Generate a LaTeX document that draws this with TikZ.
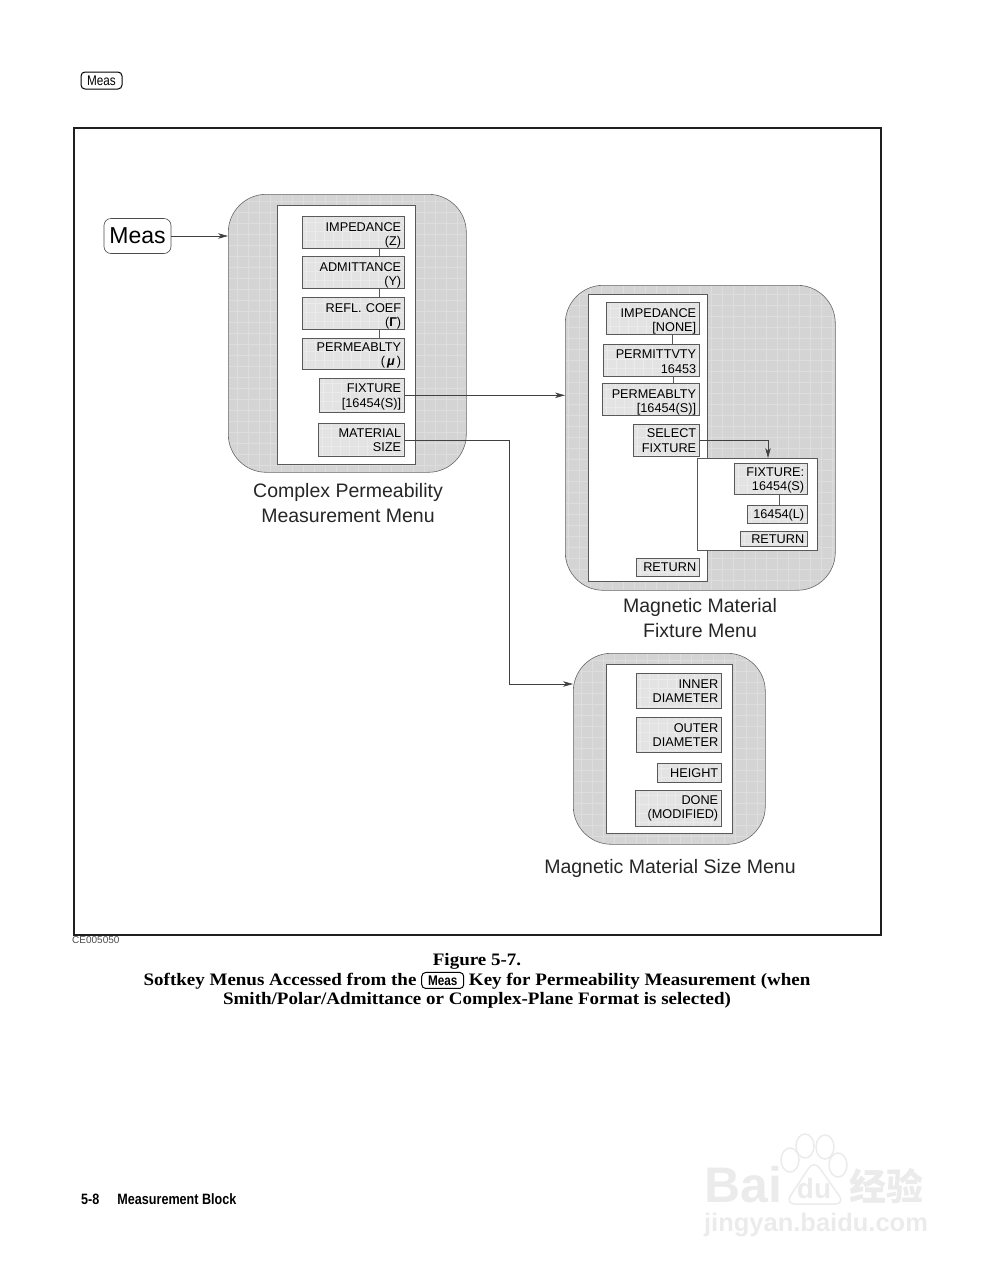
\documentclass[tikz,border=0pt]{standalone}
\usepackage{fontspec}
\setmainfont{Liberation Sans}
\newfontfamily\capfont[FakeStretch=1.085]{Liberation Serif}
\newfontfamily\footfont[FakeStretch=0.84]{Liberation Sans}
\newfontfamily\cjkfont{Noto Sans CJK SC}
\usetikzlibrary{positioning,arrows.meta}

\definecolor{framegray}{gray}{0.12}
\definecolor{panelgray}{gray}{0.83}
\definecolor{panelline}{gray}{0.865}
\definecolor{keygray}{gray}{0.89}
\definecolor{keyline}{gray}{0.92}
\definecolor{markgray}{gray}{0.92}
\newcommand{\keydrop}{12pt}

\tikzset{
  panelbox/.style={draw=gray!80!black, line width=0.6pt, fill=panelgray, rounded corners=38pt, anchor=north west, inner sep=0pt,
    path picture={\draw[panelline, line width=0.8pt] (path picture bounding box.south west) grid[step=11pt] (path picture bounding box.north east);}},
  whitebox/.style={draw=gray!70!black, line width=0.6pt, fill=white, anchor=north west, inner sep=0pt},
  softkey/.style={draw=gray!70!black, line width=0.6pt, fill=keygray, anchor=north east, inner xsep=3.5pt, inner ysep=0pt,
    align=right, text width=#1, font=\fontsize{12.7}{14.5}\selectfont, execute at begin node={\rule{0pt}{\keydrop}},
    path picture={\draw[keyline, line width=0.6pt] (path picture bounding box.south west) grid[step=9pt] (path picture bounding box.north east);}},
  lowkey/.code={\renewcommand{\keydrop}{15pt}},
  highkey/.code={\renewcommand{\keydrop}{9.5pt}},
  keylink/.style={draw=gray!70!black, line width=0.6pt},
  menuarrow/.style={draw=black!75, line width=0.6pt, -{Stealth[length=10pt,width=5.5pt,inset=3pt]}},
  menutitle/.style={align=center, font=\fontsize{19.5}{25}\selectfont, text=black!85},
  figcaption/.style={align=center, font=\capfont\bfseries\fontsize{17.5}{19.5}\selectfont},
  keycap/.style={draw, rounded corners=4pt, line width=1pt, inner xsep=0pt, inner ysep=0pt, font=\footfont\fontsize{14}{15}\selectfont},
  watermark/.style={text=markgray, font=\bfseries\fontsize{#1}{#1}\selectfont}
}

\begin{document}
\begin{tikzpicture}[x=1pt,y=-1pt]
\useasboundingbox (0,0) rectangle (989,1280);

% Page head
\node[keycap, minimum width=41pt, minimum height=17pt] (headkey) at (101.5,80.5) {Meas};

% Frame
\node[draw=framegray, line width=2pt, outer sep=0pt, anchor=north west, minimum width=807pt, minimum height=807pt] (frame) at (73.5,127.5) {};
\node[anchor=west, inner sep=0pt, font=\fontsize{10}{11}\selectfont, text=black!70] (figcode) at (72,940) {CE005050};

% Complex Permeability menu
\node[panelbox, minimum width=238pt, minimum height=278pt] (panelA) at (228,194) {};
\node[whitebox, minimum width=138pt, minimum height=259.5pt] (whiteA) at (277,204.5) {};
\node[softkey=95pt, lowkey, minimum height=30pt] (impA) at (405,216) {IMPEDANCE\\(Z)};
\node[softkey=95pt, lowkey, minimum height=31pt] (admA) at (405,256) {ADMITTANCE\\(Y)};
\node[softkey=95pt, lowkey, minimum height=30pt] (refA) at (405,297) {REFL. COEF\\(\textbf{Γ})};
\node[softkey=95pt, minimum height=31pt] (perA) at (405,338) {PERMEABLTY\\(\,\textbf{\itshape μ}\,)};
\node[softkey=78pt, minimum height=34pt] (fixA) at (405,378) {FIXTURE\\{[}16454(S)]};
\node[softkey=79pt, highkey, minimum height=33pt] (matA) at (405,423) {MATERIAL\\SIZE};
\draw[keylink] ([xshift=25.5pt]impA.south) -- ([xshift=25.5pt]impA.south |- admA.north);
\draw[keylink] ([xshift=25.5pt]admA.south) -- ([xshift=25.5pt]admA.south |- refA.north);
\draw[keylink] ([xshift=25.5pt]refA.south) -- ([xshift=25.5pt]refA.south |- perA.north);
\node[menutitle] (titleA) at (348,503.5) {Complex Permeability\\Measurement Menu};

% Meas key
\node[draw=black!70, line width=0.6pt, rounded corners=7pt, minimum width=67pt, minimum height=35pt, inner sep=0pt,
  font=\fontsize{23}{26}\selectfont] (meas) at (137.5,236) {Meas};
\draw[menuarrow] (meas.east) -- (meas.east -| panelA.west);

% Magnetic Material Fixture menu
\node[panelbox, minimum width=270pt, minimum height=305pt] (panelB) at (565,285) {};
\node[whitebox, minimum width=119pt, minimum height=287pt] (whiteB) at (588,294) {};
\node[softkey=86pt, lowkey, minimum height=32pt] (impB) at (700,302) {IMPEDANCE\\{[}NONE]};
\node[softkey=89pt, minimum height=32pt] (perB) at (700,344) {PERMITTVTY\\16453};
\node[softkey=90pt, lowkey, minimum height=32pt] (pmbB) at (700,383) {PERMEABLTY\\{[}16454(S)]};
\node[softkey=59pt, highkey, minimum height=32pt] (selB) at (700,424) {SELECT\\FIXTURE};
\node[softkey=56pt, highkey, minimum height=18pt] (retB) at (700,558) {RETURN};
\node[whitebox, minimum width=120pt, minimum height=92pt] (whiteF) at (697,458) {};
\node[softkey=66pt, minimum height=31pt] (fixS) at (808,463) {FIXTURE:\\16454(S)};
\node[softkey=53pt, minimum height=18pt] (fixL) at (808,505) {16454(L)};
\node[softkey=60pt, highkey, minimum height=15pt] (retF) at (808,531) {RETURN};
\draw[keylink] ([xshift=19pt]impB.south) -- ([xshift=19pt]impB.south |- perB.north);
\draw[keylink] ([xshift=22pt]perB.south) -- ([xshift=22pt]perB.south |- pmbB.north);
\draw[keylink] ([xshift=8.5pt]fixS.south) -- ([xshift=8.5pt]fixS.south |- fixL.north);
\node[menutitle] (titleB) at (700,618.5) {Magnetic Material\\Fixture Menu};

% Magnetic Material Size menu
\node[panelbox, minimum width=192pt, minimum height=191pt] (panelC) at (573,653) {};
\node[whitebox, minimum width=126pt, minimum height=169pt] (whiteC) at (606,664) {};
\node[softkey=78pt, highkey, minimum height=35pt] (innC) at (722,673) {INNER\\DIAMETER};
\node[softkey=78pt, highkey, minimum height=35pt] (outC) at (722,717) {OUTER\\DIAMETER};
\node[softkey=57pt, highkey, minimum height=19pt] (heiC) at (722,763) {HEIGHT};
\node[softkey=79pt, highkey, minimum height=36pt] (donC) at (722,790) {DONE\\(MODIFIED)};
\node[menutitle] (titleC) at (670,868.5) {Magnetic Material Size Menu};

% Connectors
\coordinate (bendM) at (509,684);
\coordinate (bendS) at (768,441);
\draw[menuarrow] (fixA.east) -- (fixA.east -| panelB.west);
\draw[menuarrow] (matA.east) -| (bendM) -- (bendM -| panelC.west);
\draw[menuarrow] (selB.east) -| (bendS |- whiteF.north);

% Caption
\node[figcaption] (caption) at (477,981) {Figure 5-7.\\Softkey Menus Accessed from the
  \tikz[baseline=(capkey.base)] \node[keycap, minimum width=42pt, minimum height=16pt] (capkey) {Meas}; Key for Permeability Measurement (when\\
  Smith/Polar/Admittance or Complex-Plane Format is selected)};

% Footer
\node[anchor=west, inner sep=0pt, font=\footfont\bfseries\fontsize{15}{16}\selectfont] (footer) at (81,1199) {5-8\hspace{18pt}Measurement Block};

% Watermark
\node[watermark=50, anchor=west, inner sep=0pt] (markbai) at (704,1185) {Bai};
\node[watermark=28, inner sep=0pt] (markdu) at (814,1188) {du};
\node[anchor=west, inner sep=0pt, text=markgray, font=\cjkfont\bfseries\fontsize{37}{38}\selectfont] (markjy) at (849,1186) {经验};
\node[watermark=25.5, inner sep=0pt] (markurl) at (816,1225) {jingyan.baidu.com};
\foreach \px/\py in {790/1160, 805/1146, 825/1147, 838/1165}
  \draw[markgray, line width=1.5pt] (\px,\py) ellipse [x radius=9pt, y radius=12pt];
\draw[markgray, line width=1.5pt, rounded corners=10pt] (785,1204) -- (814,1160) -- (845,1204) -- cycle;
\end{tikzpicture}
\end{document}
